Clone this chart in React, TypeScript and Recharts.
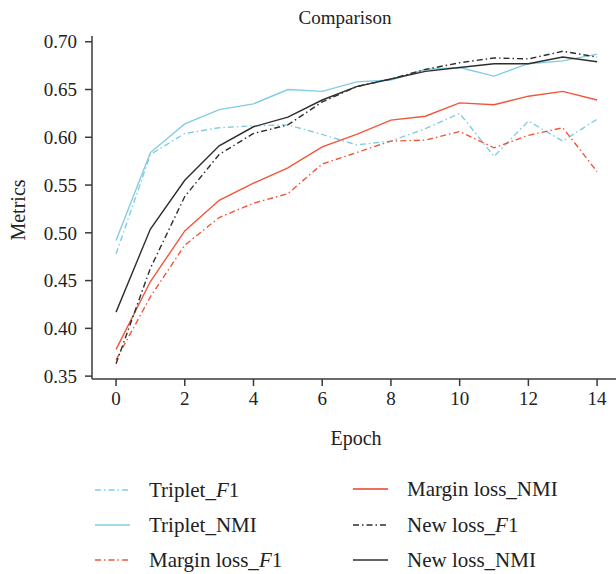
import React from 'react';
import { LineChart, Line, XAxis, YAxis } from 'recharts';

const epochs = [0, 1, 2, 3, 4, 5, 6, 7, 8, 9, 10, 11, 12, 13, 14];
const tripletF1 = [0.478, 0.582, 0.604, 0.610, 0.612, 0.613, 0.603, 0.592, 0.596, 0.609, 0.625, 0.580, 0.617, 0.596, 0.619];
const tripletNMI = [0.492, 0.584, 0.614, 0.629, 0.635, 0.650, 0.648, 0.658, 0.660, 0.671, 0.673, 0.664, 0.677, 0.680, 0.687];
const marginF1 = [0.367, 0.433, 0.487, 0.516, 0.531, 0.541, 0.572, 0.584, 0.596, 0.597, 0.606, 0.589, 0.602, 0.610, 0.564];
const marginNMI = [0.378, 0.449, 0.502, 0.534, 0.552, 0.568, 0.590, 0.603, 0.618, 0.622, 0.636, 0.634, 0.643, 0.648, 0.639];
const newF1 = [0.363, 0.463, 0.538, 0.582, 0.604, 0.613, 0.637, 0.653, 0.661, 0.671, 0.678, 0.683, 0.682, 0.690, 0.684];
const newNMI = [0.417, 0.504, 0.555, 0.591, 0.611, 0.621, 0.639, 0.653, 0.661, 0.669, 0.673, 0.677, 0.677, 0.684, 0.679];
const yTicks = [0.35, 0.4, 0.45, 0.5, 0.55, 0.6, 0.65, 0.7];
const xTicks = [0, 2, 4, 6, 8, 10, 12, 14];

const data = epochs.map((e, i) => ({
  epoch: e,
  tripletF1: tripletF1[i],
  tripletNMI: tripletNMI[i],
  marginF1: marginF1[i],
  marginNMI: marginNMI[i],
  newF1: newF1[i],
  newNMI: newNMI[i],
}));

const BLUE = '#82cde3';
const RED = '#f0573a';
const BLACK = '#2e2e2e';
const DASH = '6 3 1.5 3';
const FONT = '"Liberation Serif", "DejaVu Serif", serif';
const AXIS = '#3a3a3a';

const series = [
  { key: 'tripletF1', color: BLUE, dash: DASH },
  { key: 'tripletNMI', color: BLUE, dash: undefined },
  { key: 'marginF1', color: RED, dash: DASH },
  { key: 'marginNMI', color: RED, dash: undefined },
  { key: 'newF1', color: BLACK, dash: DASH },
  { key: 'newNMI', color: BLACK, dash: undefined },
];

const legendItems = [
  { label: ['Triplet_', 'F', '1'], color: BLUE, dash: DASH, x: 95, y: 490 },
  { label: ['Triplet_NMI'], color: BLUE, dash: undefined, x: 95, y: 525 },
  { label: ['Margin loss_', 'F', '1'], color: RED, dash: DASH, x: 95, y: 560 },
  { label: ['Margin loss_NMI'], color: '#ee3b2a', dash: undefined, x: 353, y: 489 },
  { label: ['New loss_', 'F', '1'], color: BLACK, dash: DASH, x: 353, y: 525 },
  { label: ['New loss_NMI'], color: BLACK, dash: undefined, x: 353, y: 560 },
];

export default function App() {
  return (
    <div style={{ position: 'absolute', left: 0, top: 0, width: 616, height: 574, background: '#fff', fontFamily: FONT, color: '#222' }}>
      <LineChart width={616} height={574} data={data} margin={{ top: 36, right: 0, left: 0, bottom: 165 }}>
        <XAxis
          dataKey="epoch"
          type="number"
          domain={[-0.7, 14.55]}
          ticks={xTicks}
          allowDataOverflow
          height={30}
          tickSize={7}
          stroke={AXIS}
          strokeWidth={1.5}
          tick={{ fill: '#222', fontSize: 19, fontFamily: FONT }}
          tickMargin={6}
        />
        <XAxis
          xAxisId="top"
          orientation="top"
          dataKey="epoch"
          type="number"
          domain={[-0.7, 14.55]}
          allowDataOverflow
          height={0}
          tick={false}
          tickLine={false}
          stroke={AXIS}
          strokeWidth={1.5}
        />
        <YAxis
          type="number"
          domain={[0.347, 0.706]}
          ticks={yTicks}
          allowDataOverflow
          width={92}
          tickSize={7}
          tickMargin={8}
          stroke={AXIS}
          strokeWidth={1.5}
          tickFormatter={(v: number) => v.toFixed(2)}
          tick={{ fill: '#222', fontSize: 19, fontFamily: FONT }}
        />
        {series.map((s) => (
          <Line
            key={s.key}
            dataKey={s.key}
            stroke={s.color}
            strokeWidth={1.4}
            strokeDasharray={s.dash}
            dot={false}
            activeDot={false}
            isAnimationActive={false}
          />
        ))}
      </LineChart>
      <div style={{ position: 'absolute', left: 245, width: 200, top: 6, textAlign: 'center', fontSize: 19, lineHeight: '24px' }}>Comparison</div>
      <div style={{ position: 'absolute', left: 256, width: 200, top: 426, textAlign: 'center', fontSize: 20, lineHeight: '24px' }}>Epoch</div>
      <div style={{ position: 'absolute', left: 18 - 100, width: 200, top: 210 - 12, textAlign: 'center', fontSize: 20, lineHeight: '24px', transform: 'rotate(-90deg)' }}>Metrics</div>
      {legendItems.map((it, i) => (
        <div key={i} style={{ position: 'absolute', left: it.x, top: it.y - 12, height: 24, display: 'flex', alignItems: 'center' }}>
          <svg width={36} height={24} style={{ display: 'block' }}>
            <line x1={0} y1={12} x2={35} y2={12} stroke={it.color} strokeWidth={1.6} strokeDasharray={it.dash} />
          </svg>
          <span style={{ marginLeft: 18, fontSize: 21, lineHeight: '24px', whiteSpace: 'nowrap' }}>
            {it.label[0]}
            {it.label[1] ? <i>{it.label[1]}</i> : null}
            {it.label[2] || null}
          </span>
        </div>
      ))}
    </div>
  );
}
